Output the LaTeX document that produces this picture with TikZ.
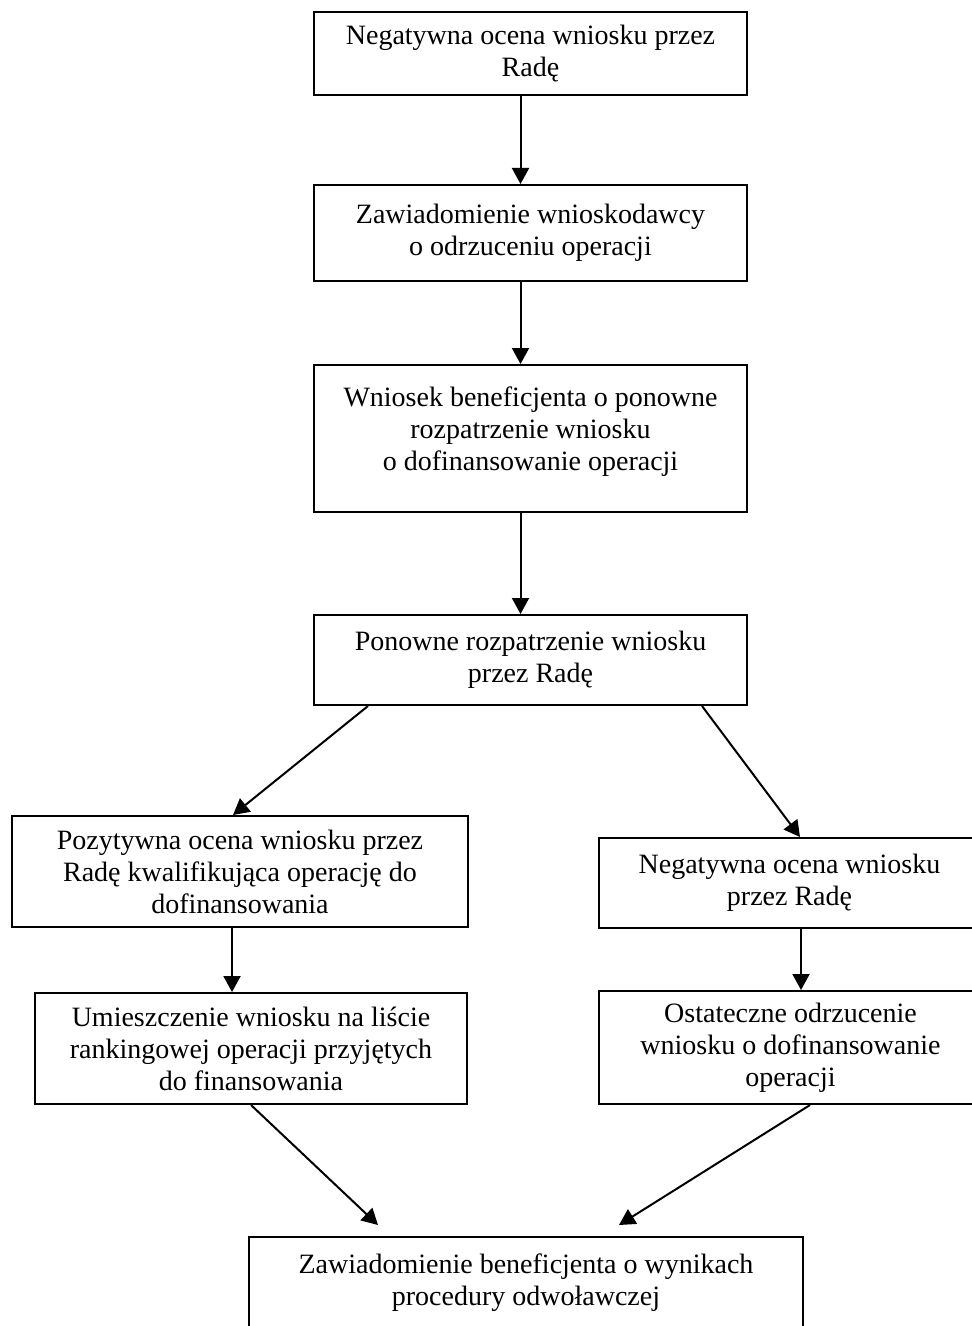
\documentclass[tikz,border=0pt]{standalone}
\usepackage{fontspec}
\setmainfont{Liberation Serif}
\usepackage{tikz}
\usetikzlibrary{positioning,arrows.meta,calc}

\begin{document}
\begin{tikzpicture}[x=0.5pt, y=-0.5pt, >={Triangle[length=8pt, width=8.5pt]},
    box/.style={draw=black, line width=1pt, rectangle, align=center, inner sep=0pt,
        font=\fontsize{14}{16}\selectfont, execute at begin node={\rule{0pt}{15.5pt}}},
    flow/.style={->, line width=1pt}]

    \useasboundingbox (0,0) rectangle (971,1326);

    % =========================================================================
    % MAIN COLUMN
    % =========================================================================
    \node[box, minimum width=216.5pt, minimum height=41.5pt] (neg1) at (530.5,53.5) {Negatywna ocena wniosku przez\\Radę};
    \node[box, minimum width=216.5pt, minimum height=48pt] (zaw1) at (530.5,233) {Zawiadomienie wnioskodawcy\\o odrzuceniu operacji};
    \node[box, minimum width=216.5pt, minimum height=73.5pt, execute at begin node={},
        execute at end node={\rule[-10pt]{0pt}{1pt}}] (wniosek) at (530.5,438.5) {Wniosek beneficjenta o ponowne\\rozpatrzenie wniosku\\o dofinansowanie operacji};
    \node[box, minimum width=216.5pt, minimum height=45pt] (ponowne) at (530.5,660) {Ponowne rozpatrzenie wniosku\\przez Radę};

    \draw[flow] ([xshift=-5pt]neg1.south) -- ([xshift=-5pt]zaw1.north);
    \draw[flow] ([xshift=-5pt]zaw1.south) -- ([xshift=-5pt]wniosek.north);
    \draw[flow] ([xshift=-5pt]wniosek.south) -- ([xshift=-5pt]ponowne.north);

    % =========================================================================
    % LEFT BRANCH: positive result
    % =========================================================================
    \node[box, minimum width=228pt, minimum height=55.5pt] (pozyt) at (240,871.5) {Pozytywna ocena wniosku przez\\Radę kwalifikująca operację do\\dofinansowania};
    \node[box, minimum width=216pt, minimum height=55.5pt] (umiesz) at (251,1048.5) {Umieszczenie wniosku na liście\\rankingowej operacji przyjętych\\do finansowania};

    \draw[flow] ([xshift=-81.25pt]ponowne.south) -- ([xshift=-3.5pt]pozyt.north);
    \draw[flow] ($(pozyt.south)+(-4pt,0)$) -- ($(pozyt.south |- umiesz.north)+(-4pt,0)$);

    % =========================================================================
    % RIGHT BRANCH: negative result
    % =========================================================================
    \node[box, minimum width=190.5pt, minimum height=45pt] (neg2) at (789.5,883) {Negatywna ocena wniosku\\przez Radę};
    \node[box, minimum width=191.5pt, minimum height=56.5pt] (ostat) at (790.5,1047.5) {Ostateczne odrzucenie\\wniosku o dofinansowanie\\operacji};

    \draw[flow] ([xshift=85.75pt]ponowne.south) -- ([xshift=5.25pt]neg2.north);
    \draw[flow] ($(neg2.south)+(5.75pt,0)$) -- ($(neg2.south |- ostat.north)+(5.75pt,0)$);

    % =========================================================================
    % FINAL NOTICE
    % =========================================================================
    \node[box, minimum width=277pt, minimum height=46pt] (zaw2) at (526,1283) {Zawiadomienie beneficjenta o wynikach\\procedury odwoławczej};

    \draw[flow] (umiesz.south) -- ([shift={(-74pt,5.5pt)}]zaw2.north);
    \draw[flow] ([xshift=9.75pt]ostat.south) -- ([shift={(46.5pt,5.5pt)}]zaw2.north);

\end{tikzpicture}
\end{document}
